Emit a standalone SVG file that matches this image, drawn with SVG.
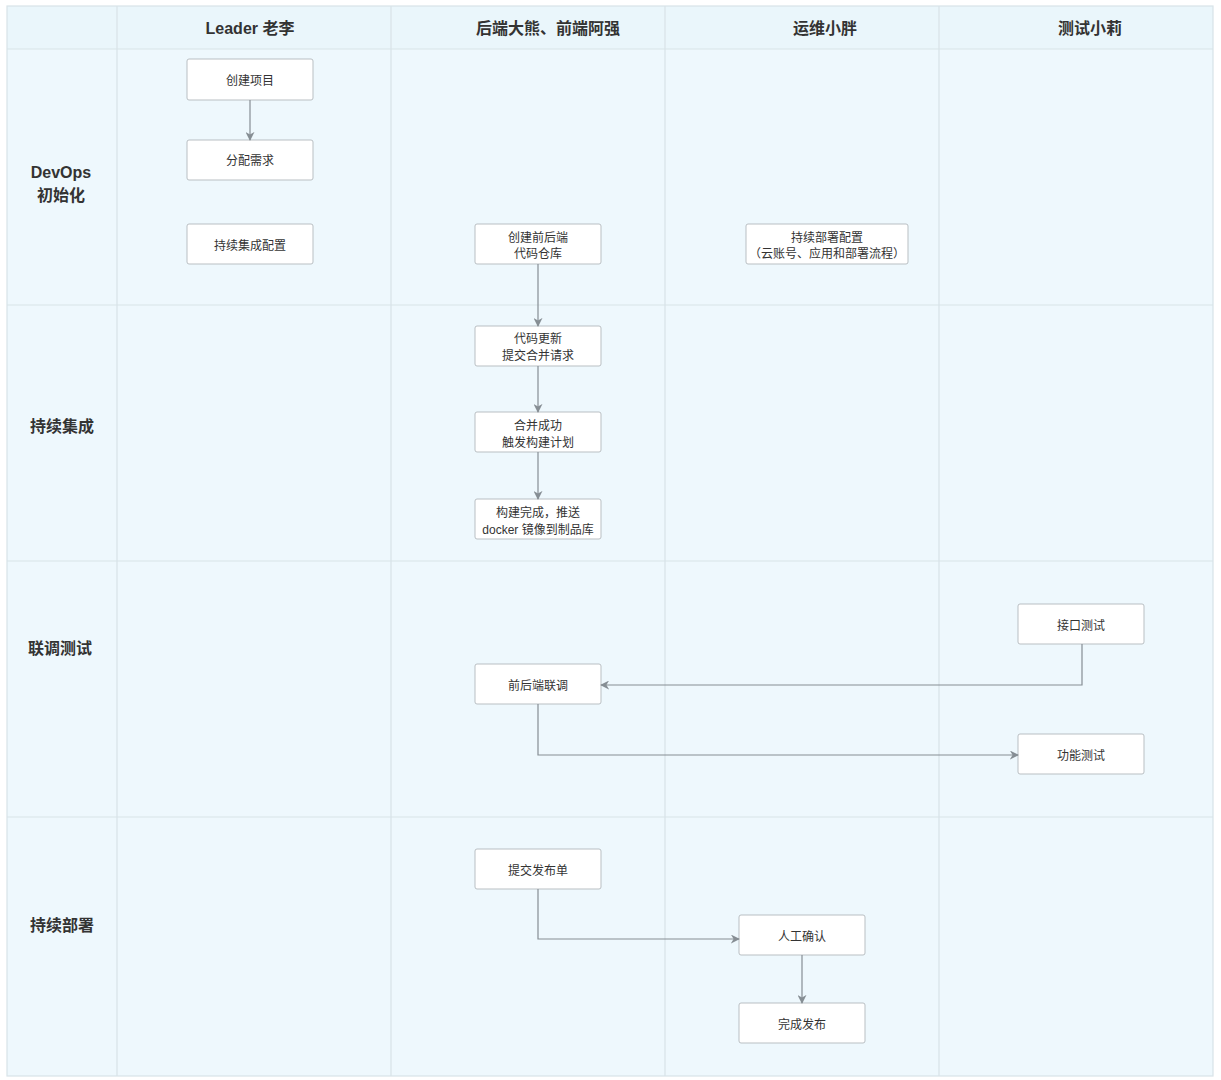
<svg xmlns="http://www.w3.org/2000/svg" width="1221" height="1080" viewBox="0 0 1221 1080">
<style>
.bg{fill:#eef8fd}
.hd{fill:#eaf6fb}
.grid{stroke:#d8e3e8;stroke-width:1.2;fill:none}
.node rect{fill:#ffffff;stroke:#b9bfc3;stroke-width:1}
.nt{font-family:"Liberation Sans","Noto Sans CJK SC",sans-serif;font-size:12px;fill:#333;text-anchor:middle}
.ht{font-family:"Liberation Sans","Noto Sans CJK SC",sans-serif;font-size:16px;font-weight:bold;fill:#333;text-anchor:middle}
.lt{font-family:"Liberation Sans","Noto Sans CJK SC",sans-serif;font-size:16px;font-weight:bold;fill:#333;text-anchor:middle}
.conn path{stroke:#868e94;stroke-width:1.2;fill:none;marker-end:url(#ah)}
</style>
<defs>
<marker id="ah" viewBox="0 0 10 10" refX="9" refY="5" markerWidth="9" markerHeight="9" markerUnits="userSpaceOnUse" orient="auto">
<path d="M0,0 L10,5 L0,10 L3,5 z" fill="#868e94"/>
</marker>
</defs>
<rect x="0" y="0" width="1221" height="1080" fill="#ffffff"/>
<rect class="bg" x="7" y="6" width="1206" height="1070"/>
<rect class="hd" x="7" y="6" width="1206" height="43"/>
<g id="grid" class="grid">
<rect x="7" y="6" width="1206" height="1070"/>
<line x1="117" y1="6" x2="117" y2="1076"/>
<line x1="391" y1="6" x2="391" y2="1076"/>
<line x1="665" y1="6" x2="665" y2="1076"/>
<line x1="939" y1="6" x2="939" y2="1076"/>
<line x1="7" y1="49" x2="1213" y2="49"/>
<line x1="7" y1="305" x2="1213" y2="305"/>
<line x1="7" y1="561" x2="1213" y2="561"/>
<line x1="7" y1="817" x2="1213" y2="817"/>
</g>
<g id="headers">
<text class="ht" x="250" y="34">Leader 老李</text>
<text class="ht" x="548" y="34">后端大熊、前端阿强</text>
<text class="ht" x="825" y="34">运维小胖</text>
<text class="ht" x="1090" y="34">测试小莉</text>
</g>
<g id="lanes">
<text class="lt" x="61" y="178">DevOps</text>
<text class="lt" x="61" y="201">初始化</text>
<text class="lt" x="62" y="432">持续集成</text>
<text class="lt" x="60" y="654">联调测试</text>
<text class="lt" x="62" y="931">持续部署</text>
</g>
<g id="n1" class="node"><rect x="187" y="59" width="126" height="41" rx="2"/><text class="nt" x="250" y="85">创建项目</text></g>
<g id="n2" class="node"><rect x="187" y="140" width="126" height="40" rx="2"/><text class="nt" x="250" y="165">分配需求</text></g>
<g id="n3" class="node"><rect x="187" y="224" width="126" height="40" rx="2"/><text class="nt" x="250" y="250">持续集成配置</text></g>
<g id="n4" class="node"><rect x="475" y="224" width="126" height="40" rx="2"/><text class="nt" x="538" y="242">创建前后端</text><text class="nt" x="538" y="258">代码仓库</text></g>
<g id="n5" class="node"><rect x="746" y="224" width="162" height="40" rx="2"/><text class="nt" x="827" y="242">持续部署配置</text><text class="nt" x="827" y="258">（云账号、应用和部署流程）</text></g>
<g id="n6" class="node"><rect x="475" y="326" width="126" height="40" rx="2"/><text class="nt" x="538" y="343">代码更新</text><text class="nt" x="538" y="360">提交合并请求</text></g>
<g id="n7" class="node"><rect x="475" y="412" width="126" height="40" rx="2"/><text class="nt" x="538" y="430">合并成功</text><text class="nt" x="538" y="447">触发构建计划</text></g>
<g id="n8" class="node"><rect x="475" y="499" width="126" height="40" rx="2"/><text class="nt" x="538" y="517">构建完成，推送</text><text class="nt" x="538" y="534">docker 镜像到制品库</text></g>
<g id="n9" class="node"><rect x="1018" y="604" width="126" height="40" rx="2"/><text class="nt" x="1081" y="630">接口测试</text></g>
<g id="n10" class="node"><rect x="475" y="664" width="126" height="40" rx="2"/><text class="nt" x="538" y="690">前后端联调</text></g>
<g id="n11" class="node"><rect x="1018" y="734" width="126" height="40" rx="2"/><text class="nt" x="1081" y="760">功能测试</text></g>
<g id="n12" class="node"><rect x="475" y="849" width="126" height="40" rx="2"/><text class="nt" x="538" y="875">提交发布单</text></g>
<g id="n13" class="node"><rect x="739" y="915" width="126" height="40" rx="2"/><text class="nt" x="802" y="941">人工确认</text></g>
<g id="n14" class="node"><rect x="739" y="1003" width="126" height="40" rx="2"/><text class="nt" x="802" y="1029">完成发布</text></g>
<g id="connectors" class="conn">
<path d="M250,100 V140"/>
<path d="M538,264 V326"/>
<path d="M538,366 V412"/>
<path d="M538,452 V499"/>
<path d="M1082,644 V685 H601"/>
<path d="M538,704 V755 H1018"/>
<path d="M538,889 V939 H739"/>
<path d="M802,955 V1003"/>
</g>
</svg>
